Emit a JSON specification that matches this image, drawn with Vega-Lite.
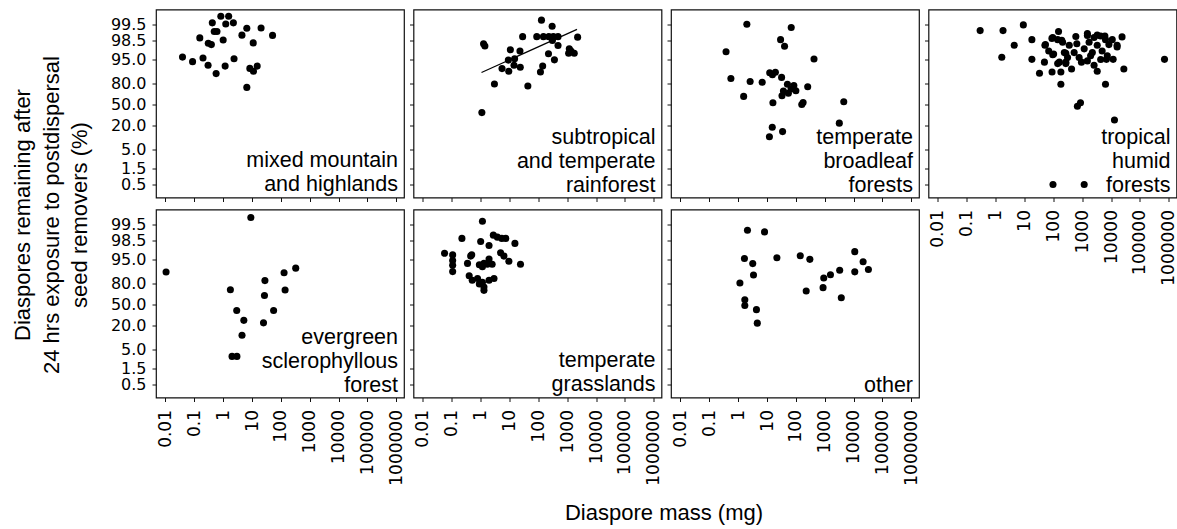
{
"$schema": "https://vega.github.io/schema/vega-lite/v6.json",
"padding": {"left": 10, "top": 8.5, "right": 0, "bottom": 0},
"background": "white",
"datasets": {
"fit": [{"mass": 1.07, "remaining": 88.9}, {"mass": 2180, "remaining": 99.25}],
"points": [
{"habitat":"mm","mass":0.83,"remaining":99.7},{"habitat":"mm","mass":1.55,"remaining":99.7},{"habitat":"mm","mass":0.42,"remaining":99.53},{"habitat":"mm","mass":1.23,"remaining":99.5},{"habitat":"mm","mass":2.26,"remaining":99.53},{"habitat":"mm","mass":0.49,"remaining":99.15},{"habitat":"mm","mass":0.61,"remaining":99.15},{"habitat":"mm","mass":6.6,"remaining":99.3},{"habitat":"mm","mass":20.6,"remaining":99.31},{"habitat":"mm","mass":4.47,"remaining":98.96},{"habitat":"mm","mass":51.5,"remaining":98.94},{"habitat":"mm","mass":0.155,"remaining":98.74},{"habitat":"mm","mass":1.0,"remaining":98.57},{"habitat":"mm","mass":0.305,"remaining":98.18},{"habitat":"mm","mass":0.39,"remaining":97.98},{"habitat":"mm","mass":11,"remaining":98.22},{"habitat":"mm","mass":0.039,"remaining":95.65},{"habitat":"mm","mass":0.087,"remaining":94.17},{"habitat":"mm","mass":0.2,"remaining":95.45},{"habitat":"mm","mass":0.3,"remaining":92.55},{"habitat":"mm","mass":1.17,"remaining":92.2},{"habitat":"mm","mass":2.38,"remaining":95.26},{"habitat":"mm","mass":0.57,"remaining":87.98},{"habitat":"mm","mass":8.4,"remaining":91.2},{"habitat":"mm","mass":11.2,"remaining":89.9},{"habitat":"mm","mass":15.1,"remaining":92.2},{"habitat":"mm","mass":6.6,"remaining":74.9},
{"habitat":"str","mass":128,"remaining":99.6},{"habitat":"str","mass":300,"remaining":99.4},{"habitat":"str","mass":1.26,"remaining":98.11},{"habitat":"str","mass":1.4,"remaining":97.79},{"habitat":"str","mass":28.5,"remaining":98.84},{"habitat":"str","mass":88,"remaining":98.84},{"habitat":"str","mass":150,"remaining":98.84},{"habitat":"str","mass":230,"remaining":98.84},{"habitat":"str","mass":330,"remaining":98.84},{"habitat":"str","mass":480,"remaining":98.84},{"habitat":"str","mass":2290,"remaining":98.8},{"habitat":"str","mass":307,"remaining":98.54},{"habitat":"str","mass":10.7,"remaining":97.26},{"habitat":"str","mass":23,"remaining":97.09},{"habitat":"str","mass":480,"remaining":97.85},{"habitat":"str","mass":224,"remaining":96.5},{"habitat":"str","mass":1180,"remaining":97.39},{"habitat":"str","mass":1350,"remaining":97.09},{"habitat":"str","mass":1750,"remaining":96.6},{"habitat":"str","mass":1120,"remaining":96.6},{"habitat":"str","mass":9.1,"remaining":94.85},{"habitat":"str","mass":15,"remaining":95.26},{"habitat":"str","mass":360,"remaining":94.95},{"habitat":"str","mass":5.5,"remaining":91.1},{"habitat":"str","mass":9.4,"remaining":89.9},{"habitat":"str","mass":14.3,"remaining":92.6},{"habitat":"str","mass":23.6,"remaining":91.7},{"habitat":"str","mass":118,"remaining":89.3},{"habitat":"str","mass":141,"remaining":92.2},{"habitat":"str","mass":3.0,"remaining":79.2},{"habitat":"str","mass":43.2,"remaining":76.6},{"habitat":"str","mass":1.1,"remaining":37.1},
{"habitat":"tbf","mass":2.0,"remaining":99.49},{"habitat":"tbf","mass":69,"remaining":99.34},{"habitat":"tbf","mass":29.5,"remaining":98.6},{"habitat":"tbf","mass":40.5,"remaining":97.75},{"habitat":"tbf","mass":0.38,"remaining":96.97},{"habitat":"tbf","mass":425,"remaining":95.17},{"habitat":"tbf","mass":0.56,"remaining":84},{"habitat":"tbf","mass":2.6,"remaining":81.6},{"habitat":"tbf","mass":6.8,"remaining":81},{"habitat":"tbf","mass":1.55,"remaining":62.9},{"habitat":"tbf","mass":12.4,"remaining":88.7},{"habitat":"tbf","mass":15.4,"remaining":87.1},{"habitat":"tbf","mass":19.5,"remaining":89},{"habitat":"tbf","mass":32,"remaining":84.9},{"habitat":"tbf","mass":51,"remaining":78.9},{"habitat":"tbf","mass":85,"remaining":77.4},{"habitat":"tbf","mass":100,"remaining":70.6},{"habitat":"tbf","mass":37,"remaining":70.2},{"habitat":"tbf","mass":55,"remaining":67.3},{"habitat":"tbf","mass":33,"remaining":63.9},{"habitat":"tbf","mass":68,"remaining":72.9},{"habitat":"tbf","mass":257,"remaining":75.7},{"habitat":"tbf","mass":16,"remaining":52.8},{"habitat":"tbf","mass":160,"remaining":50},{"habitat":"tbf","mass":178,"remaining":53.3},{"habitat":"tbf","mass":4570,"remaining":54.4},{"habitat":"tbf","mass":3200,"remaining":23.1},{"habitat":"tbf","mass":15.2,"remaining":18.7},{"habitat":"tbf","mass":34.6,"remaining":15.1},{"habitat":"tbf","mass":12.1,"remaining":10.9},
{"habitat":"thf","mass":0.29,"remaining":99.19},{"habitat":"thf","mass":1.8,"remaining":99.19},{"habitat":"thf","mass":9.1,"remaining":99.46},{"habitat":"thf","mass":18,"remaining":98.6},{"habitat":"thf","mass":4.4,"remaining":97.9},{"habitat":"thf","mass":1.63,"remaining":95.6},{"habitat":"thf","mass":18,"remaining":95.1},{"habitat":"thf","mass":33,"remaining":88.3},{"habitat":"thf","mass":90,"remaining":89.3},{"habitat":"thf","mass":182,"remaining":89.3},{"habitat":"thf","mass":182,"remaining":78.9},{"habitat":"thf","mass":680,"remaining":47.2},{"habitat":"thf","mass":870,"remaining":52.8},{"habitat":"thf","mass":6400,"remaining":78.9},{"habitat":"thf","mass":13100,"remaining":27.1},{"habitat":"thf","mass":27700,"remaining":90.9},{"habitat":"thf","mass":710000,"remaining":95.1},{"habitat":"thf","mass":97,"remaining":0.52},{"habitat":"thf","mass":1170,"remaining":0.52},{"habitat":"thf","mass":24000,"remaining":98.82},{"habitat":"thf","mass":6900,"remaining":95.1},{"habitat":"thf","mass":11800,"remaining":95.1},
{"habitat":"thf","mass":151,"remaining":99.15},{"habitat":"thf","mass":53,"remaining":97.98},{"habitat":"thf","mass":69,"remaining":97.09},{"habitat":"thf","mass":95,"remaining":98.77},{"habitat":"thf","mass":141,"remaining":98.6},{"habitat":"thf","mass":209,"remaining":98.3},{"habitat":"thf","mass":102,"remaining":96.41},{"habitat":"thf","mass":161,"remaining":93.95},{"habitat":"thf","mass":240,"remaining":96.77},{"habitat":"thf","mass":270,"remaining":93.95},{"habitat":"thf","mass":427,"remaining":90.9},{"habitat":"thf","mass":355,"remaining":97.9},{"habitat":"thf","mass":600,"remaining":98.85},{"habitat":"thf","mass":650,"remaining":98.11},{"habitat":"thf","mass":525,"remaining":96.77},{"habitat":"thf","mass":780,"remaining":95.57},{"habitat":"thf","mass":1170,"remaining":97.39},{"habitat":"thf","mass":1510,"remaining":98.94},{"habitat":"thf","mass":1730,"remaining":98.3},{"habitat":"thf","mass":940,"remaining":93.95},{"habitat":"thf","mass":1510,"remaining":94.5},{"habitat":"thf","mass":2570,"remaining":92.55},{"habitat":"thf","mass":3310,"remaining":89.9},{"habitat":"thf","mass":2240,"remaining":96.77},{"habitat":"thf","mass":3310,"remaining":97.9},{"habitat":"thf","mass":2570,"remaining":98.77},{"habitat":"thf","mass":4360,"remaining":98.89},{"habitat":"thf","mass":6400,"remaining":98.6},{"habitat":"thf","mass":8400,"remaining":97.98},{"habitat":"thf","mass":4900,"remaining":97.09},{"habitat":"thf","mass":7400,"remaining":96.0},{"habitat":"thf","mass":4360,"remaining":95.07},{"habitat":"thf","mass":16200,"remaining":97.9},{"habitat":"thf","mass":1950,"remaining":96.0},{"habitat":"thf","mass":310,"remaining":95.57},{"habitat":"thf","mass":49,"remaining":93.95},{"habitat":"thf","mass":89,"remaining":98.7},{"habitat":"thf","mass":195,"remaining":98.54},{"habitat":"thf","mass":51,"remaining":97.9},{"habitat":"thf","mass":95,"remaining":96.24},{"habitat":"thf","mass":270,"remaining":96.6},{"habitat":"thf","mass":141,"remaining":93.3},{"habitat":"thf","mass":270,"remaining":93.3},{"habitat":"thf","mass":1510,"remaining":99.05},{"habitat":"thf","mass":3310,"remaining":98.96},{"habitat":"thf","mass":6100,"remaining":98.89},{"habitat":"thf","mass":11000,"remaining":98.6},{"habitat":"thf","mass":16200,"remaining":97.66},
{"habitat":"esf","mass":0.0105,"remaining":89.3},{"habitat":"esf","mass":9.1,"remaining":99.67},{"habitat":"esf","mass":1.78,"remaining":71.9},{"habitat":"esf","mass":2.95,"remaining":40.3},{"habitat":"esf","mass":5.2,"remaining":26.7},{"habitat":"esf","mass":4.5,"remaining":12.2},{"habitat":"esf","mass":2.03,"remaining":3.23},{"habitat":"esf","mass":3.0,"remaining":3.23},{"habitat":"esf","mass":28,"remaining":82.3},{"habitat":"esf","mass":27,"remaining":64.4},{"habitat":"esf","mass":56,"remaining":40.3},{"habitat":"esf","mass":25,"remaining":23.5},{"habitat":"esf","mass":129,"remaining":88.7},{"habitat":"esf","mass":140,"remaining":71.5},{"habitat":"esf","mass":327,"remaining":91.3},
{"habitat":"tg","mass":1.15,"remaining":99.57},{"habitat":"tg","mass":0.224,"remaining":98.7},{"habitat":"tg","mass":1.0,"remaining":98.41},{"habitat":"tg","mass":2.75,"remaining":98.96},{"habitat":"tg","mass":3.8,"remaining":98.8},{"habitat":"tg","mass":5.4,"remaining":98.7},{"habitat":"tg","mass":7.4,"remaining":98.7},{"habitat":"tg","mass":15.4,"remaining":98.15},{"habitat":"tg","mass":1.95,"remaining":97.85},{"habitat":"tg","mass":0.056,"remaining":96.6},{"habitat":"tg","mass":0.107,"remaining":96.2},{"habitat":"tg","mass":0.107,"remaining":94.7},{"habitat":"tg","mass":0.107,"remaining":92.6},{"habitat":"tg","mass":0.107,"remaining":89.6},{"habitat":"tg","mass":0.49,"remaining":96.24},{"habitat":"tg","mass":0.45,"remaining":95.9},{"habitat":"tg","mass":4.9,"remaining":96.7},{"habitat":"tg","mass":6.4,"remaining":95.9},{"habitat":"tg","mass":9.5,"remaining":94.3},{"habitat":"tg","mass":24,"remaining":93.0},{"habitat":"tg","mass":0.35,"remaining":93.4},{"habitat":"tg","mass":0.9,"remaining":92.8},{"habitat":"tg","mass":1.3,"remaining":93.4},{"habitat":"tg","mass":1.95,"remaining":95.2},{"habitat":"tg","mass":2.5,"remaining":93.0},{"habitat":"tg","mass":1.7,"remaining":93.0},{"habitat":"tg","mass":1.15,"remaining":91.9},{"habitat":"tg","mass":0.4,"remaining":86.3},{"habitat":"tg","mass":0.51,"remaining":82.6},{"habitat":"tg","mass":0.78,"remaining":84.0},{"habitat":"tg","mass":1.15,"remaining":81.0},{"habitat":"tg","mass":1.3,"remaining":71.1},{"habitat":"tg","mass":1.95,"remaining":82.6},{"habitat":"tg","mass":2.9,"remaining":84.0},{"habitat":"tg","mass":0.9,"remaining":79.2},{"habitat":"tg","mass":1.3,"remaining":75.4},
{"habitat":"oth","mass":2.1,"remaining":99.21},{"habitat":"oth","mass":8.2,"remaining":99.13},{"habitat":"oth","mass":1.65,"remaining":95.3},{"habitat":"oth","mass":3.2,"remaining":93.3},{"habitat":"oth","mass":3.4,"remaining":86.9},{"habitat":"oth","mass":1.15,"remaining":80.4},{"habitat":"oth","mass":1.7,"remaining":57.7},{"habitat":"oth","mass":1.7,"remaining":48.4},{"habitat":"oth","mass":4.3,"remaining":41.8},{"habitat":"oth","mass":4.6,"remaining":23.1},{"habitat":"oth","mass":22,"remaining":95.5},{"habitat":"oth","mass":142,"remaining":96.0},{"habitat":"oth","mass":305,"remaining":95.1},{"habitat":"oth","mass":228,"remaining":70.2},{"habitat":"oth","mass":875,"remaining":74.6},{"habitat":"oth","mass":925,"remaining":84.4},{"habitat":"oth","mass":1580,"remaining":87.1},{"habitat":"oth","mass":3300,"remaining":90.4},{"habitat":"oth","mass":3750,"remaining":60.8},{"habitat":"oth","mass":11000,"remaining":97.0},{"habitat":"oth","mass":11000,"remaining":89.4},{"habitat":"oth","mass":21400,"remaining":94.1},{"habitat":"oth","mass":32600,"remaining":90.7}
]
},
"columns": 4,
"bounds": "flush",
"spacing": {"row": 12, "column": 9.5},
"resolve": {"scale": {"x": "independent", "y": "independent"}},
"concat": [
{"width": 248, "height": 188, "layer": [
 {"data": {"name": "points"}, "transform": [{"filter": {"field": "habitat", "equal": "mm"}}],
  "mark": {"type": "circle", "size": 50, "color": "#000", "opacity": 1},
  "encoding": {
   "x": {"field": "mass", "type": "quantitative", "scale": {"type": "log", "domain": [0.0047, 1850000], "nice": false}, "axis": {"values": [0.01,0.1,1,10,100,1000,10000,100000,1000000], "tickCount": 20, "labels": false, "title": null}},
   "y": {"field": "remaining", "type": "quantitative", "scale": {"type": "linear", "nice": false, "zero": false, "domain": [0.1,0.3,0.5,1,1.5,3,5,10,20,35,50,65,80,90,95,97,98.5,99,99.5,99.7,99.9], "range": [199.98,183.25,175.46,164.85,158.61,147.84,139.75,128.4,116.07,104.41,95,85.59,73.93,61.6,50.25,42.16,31.39,25.15,14.54,6.75,-9.98]},
     "axis": {"values": [0.5,1.5,5,20,50,80,95,98.5,99.5], "tickCount": 20, "format": ".1f", "labelOverlap": false, "labelFontSize": 16, "title": ["Diaspores remaining after", "24 hrs exposure to postdispersal", "seed removers (%)"], "titleX": -126.5, "titleY": 205, "titleAngle": 270, "titleAlign": "center", "titleBaseline": "alphabetic", "titleLineHeight": 28.5}}
  }},
 {"data": {"values": [{"label": "mixed mountain and highlands"}]},
  "mark": {"type": "text", "text": ["mixed mountain", "and highlands"], "align": "right", "baseline": "alphabetic", "font": "Liberation Sans", "fontSize": 21.5, "lineHeight": 24, "color": "#000"},
  "encoding": {"x": {"datum": 1150000, "type": "quantitative"}, "y": {"datum": 1.585, "type": "quantitative"}}}
]},
{"width": 248, "height": 188, "layer": [
 {"data": {"name": "points"}, "transform": [{"filter": {"field": "habitat", "equal": "str"}}],
  "mark": {"type": "circle", "size": 50, "color": "#000", "opacity": 1},
  "encoding": {
   "x": {"field": "mass", "type": "quantitative", "scale": {"type": "log", "domain": [0.0047, 1850000], "nice": false}, "axis": {"values": [0.01,0.1,1,10,100,1000,10000,100000,1000000], "tickCount": 20, "labels": false, "title": null}},
   "y": {"field": "remaining", "type": "quantitative", "scale": {"type": "linear", "nice": false, "zero": false, "domain": [0.1,0.3,0.5,1,1.5,3,5,10,20,35,50,65,80,90,95,97,98.5,99,99.5,99.7,99.9], "range": [199.98,183.25,175.46,164.85,158.61,147.84,139.75,128.4,116.07,104.41,95,85.59,73.93,61.6,50.25,42.16,31.39,25.15,14.54,6.75,-9.98]},
     "axis": {"values": [0.5,1.5,5,20,50,80,95,98.5,99.5], "tickCount": 20, "labels": false, "title": null}}
  }},
 {"data": {"name": "fit"},
  "mark": {"type": "line", "color": "#000", "strokeWidth": 1.2},
  "encoding": {"x": {"field": "mass", "type": "quantitative"}, "y": {"field": "remaining", "type": "quantitative"}}},
 {"data": {"values": [{"label": "subtropical and temperate rainforest"}]},
  "mark": {"type": "text", "text": ["subtropical", "and temperate", "rainforest"], "align": "right", "baseline": "alphabetic", "font": "Liberation Sans", "fontSize": 21.5, "lineHeight": 24, "color": "#000"},
  "encoding": {"x": {"datum": 1150000, "type": "quantitative"}, "y": {"datum": 7.53, "type": "quantitative"}}}
]},
{"width": 248, "height": 188, "layer": [
 {"data": {"name": "points"}, "transform": [{"filter": {"field": "habitat", "equal": "tbf"}}],
  "mark": {"type": "circle", "size": 50, "color": "#000", "opacity": 1},
  "encoding": {
   "x": {"field": "mass", "type": "quantitative", "scale": {"type": "log", "domain": [0.0047, 1850000], "nice": false}, "axis": {"values": [0.01,0.1,1,10,100,1000,10000,100000,1000000], "tickCount": 20, "labels": false, "title": null}},
   "y": {"field": "remaining", "type": "quantitative", "scale": {"type": "linear", "nice": false, "zero": false, "domain": [0.1,0.3,0.5,1,1.5,3,5,10,20,35,50,65,80,90,95,97,98.5,99,99.5,99.7,99.9], "range": [199.98,183.25,175.46,164.85,158.61,147.84,139.75,128.4,116.07,104.41,95,85.59,73.93,61.6,50.25,42.16,31.39,25.15,14.54,6.75,-9.98]},
     "axis": {"values": [0.5,1.5,5,20,50,80,95,98.5,99.5], "tickCount": 20, "labels": false, "title": null}}
  }},
 {"data": {"values": [{"label": "temperate broadleaf forests"}]},
  "mark": {"type": "text", "text": ["temperate", "broadleaf", "forests"], "align": "right", "baseline": "alphabetic", "font": "Liberation Sans", "fontSize": 21.5, "lineHeight": 24, "color": "#000"},
  "encoding": {"x": {"datum": 1150000, "type": "quantitative"}, "y": {"datum": 7.53, "type": "quantitative"}}}
]},
{"width": 248, "height": 188, "layer": [
 {"data": {"name": "points"}, "transform": [{"filter": {"field": "habitat", "equal": "thf"}}],
  "mark": {"type": "circle", "size": 50, "color": "#000", "opacity": 1},
  "encoding": {
   "x": {"field": "mass", "type": "quantitative", "scale": {"type": "log", "domain": [0.0047, 1850000], "nice": false}, "axis": {"values": [0.01,0.1,1,10,100,1000,10000,100000,1000000], "tickCount": 20, "format": "~f", "labelOverlap": false, "title": null}},
   "y": {"field": "remaining", "type": "quantitative", "scale": {"type": "linear", "nice": false, "zero": false, "domain": [0.1,0.3,0.5,1,1.5,3,5,10,20,35,50,65,80,90,95,97,98.5,99,99.5,99.7,99.9], "range": [199.98,183.25,175.46,164.85,158.61,147.84,139.75,128.4,116.07,104.41,95,85.59,73.93,61.6,50.25,42.16,31.39,25.15,14.54,6.75,-9.98]},
     "axis": {"values": [0.5,1.5,5,20,50,80,95,98.5,99.5], "tickCount": 20, "labels": false, "title": null}}
  }},
 {"data": {"values": [{"label": "tropical humid forests"}]},
  "mark": {"type": "text", "text": ["tropical", "humid", "forests"], "align": "right", "baseline": "alphabetic", "font": "Liberation Sans", "fontSize": 21.5, "lineHeight": 24, "color": "#000"},
  "encoding": {"x": {"datum": 1150000, "type": "quantitative"}, "y": {"datum": 7.53, "type": "quantitative"}}}
]},
{"width": 248, "height": 188, "layer": [
 {"data": {"name": "points"}, "transform": [{"filter": {"field": "habitat", "equal": "esf"}}],
  "mark": {"type": "circle", "size": 50, "color": "#000", "opacity": 1},
  "encoding": {
   "x": {"field": "mass", "type": "quantitative", "scale": {"type": "log", "domain": [0.0047, 1850000], "nice": false}, "axis": {"values": [0.01,0.1,1,10,100,1000,10000,100000,1000000], "tickCount": 20, "format": "~f", "labelOverlap": false, "title": null}},
   "y": {"field": "remaining", "type": "quantitative", "scale": {"type": "linear", "nice": false, "zero": false, "domain": [0.1,0.3,0.5,1,1.5,3,5,10,20,35,50,65,80,90,95,97,98.5,99,99.5,99.7,99.9], "range": [199.98,183.25,175.46,164.85,158.61,147.84,139.75,128.4,116.07,104.41,95,85.59,73.93,61.6,50.25,42.16,31.39,25.15,14.54,6.75,-9.98]},
     "axis": {"values": [0.5,1.5,5,20,50,80,95,98.5,99.5], "tickCount": 20, "format": ".1f", "labelOverlap": false, "labelFontSize": 16, "title": null}}
  }},
 {"data": {"values": [{"label": "evergreen sclerophyllous forest"}]},
  "mark": {"type": "text", "text": ["evergreen", "sclerophyllous", "forest"], "align": "right", "baseline": "alphabetic", "font": "Liberation Sans", "fontSize": 21.5, "lineHeight": 24, "color": "#000"},
  "encoding": {"x": {"datum": 1150000, "type": "quantitative"}, "y": {"datum": 7.53, "type": "quantitative"}}}
]},
{"width": 248, "height": 188, "layer": [
 {"data": {"name": "points"}, "transform": [{"filter": {"field": "habitat", "equal": "tg"}}],
  "mark": {"type": "circle", "size": 50, "color": "#000", "opacity": 1},
  "encoding": {
   "x": {"field": "mass", "type": "quantitative", "scale": {"type": "log", "domain": [0.0047, 1850000], "nice": false}, "axis": {"values": [0.01,0.1,1,10,100,1000,10000,100000,1000000], "tickCount": 20, "format": "~f", "labelOverlap": false, "title": "Diaspore mass (mg)", "titleX": 250, "titleY": 122, "titleAlign": "center", "titleBaseline": "alphabetic"}},
   "y": {"field": "remaining", "type": "quantitative", "scale": {"type": "linear", "nice": false, "zero": false, "domain": [0.1,0.3,0.5,1,1.5,3,5,10,20,35,50,65,80,90,95,97,98.5,99,99.5,99.7,99.9], "range": [199.98,183.25,175.46,164.85,158.61,147.84,139.75,128.4,116.07,104.41,95,85.59,73.93,61.6,50.25,42.16,31.39,25.15,14.54,6.75,-9.98]},
     "axis": {"values": [0.5,1.5,5,20,50,80,95,98.5,99.5], "tickCount": 20, "labels": false, "title": null}}
  }},
 {"data": {"values": [{"label": "temperate grasslands"}]},
  "mark": {"type": "text", "text": ["temperate", "grasslands"], "align": "right", "baseline": "alphabetic", "font": "Liberation Sans", "fontSize": 21.5, "lineHeight": 24, "color": "#000"},
  "encoding": {"x": {"datum": 1150000, "type": "quantitative"}, "y": {"datum": 1.585, "type": "quantitative"}}}
]},
{"width": 248, "height": 188, "layer": [
 {"data": {"name": "points"}, "transform": [{"filter": {"field": "habitat", "equal": "oth"}}],
  "mark": {"type": "circle", "size": 50, "color": "#000", "opacity": 1},
  "encoding": {
   "x": {"field": "mass", "type": "quantitative", "scale": {"type": "log", "domain": [0.0047, 1850000], "nice": false}, "axis": {"values": [0.01,0.1,1,10,100,1000,10000,100000,1000000], "tickCount": 20, "format": "~f", "labelOverlap": false, "title": null}},
   "y": {"field": "remaining", "type": "quantitative", "scale": {"type": "linear", "nice": false, "zero": false, "domain": [0.1,0.3,0.5,1,1.5,3,5,10,20,35,50,65,80,90,95,97,98.5,99,99.5,99.7,99.9], "range": [199.98,183.25,175.46,164.85,158.61,147.84,139.75,128.4,116.07,104.41,95,85.59,73.93,61.6,50.25,42.16,31.39,25.15,14.54,6.75,-9.98]},
     "axis": {"values": [0.5,1.5,5,20,50,80,95,98.5,99.5], "tickCount": 20, "labels": false, "title": null}}
  }},
 {"data": {"values": [{"label": "other"}]},
  "mark": {"type": "text", "text": ["other"], "align": "right", "baseline": "alphabetic", "font": "Liberation Sans", "fontSize": 21.5, "lineHeight": 24, "color": "#000"},
  "encoding": {"x": {"datum": 1150000, "type": "quantitative"}, "y": {"datum": 0.332, "type": "quantitative"}}}
]}
],
"config": {
 "view": {"stroke": "#111", "strokeWidth": 1.2},
 "axis": {"domain": false, "grid": false, "ticks": true, "tickColor": "#111", "tickSize": 4, "tickWidth": 1, "labelColor": "#000", "labelFont": "DejaVu Sans", "labelFontSize": 17, "labelOverlap": false, "labelFlush": false, "titleColor": "#000", "titleFont": "Liberation Sans", "titleFontSize": 22, "titleFontWeight": "normal"},
 "axisX": {"labelAngle": 270, "labelAlign": "right", "labelBaseline": "middle", "labelPadding": 8},
 "axisY": {"labelPadding": 6}
}
}
